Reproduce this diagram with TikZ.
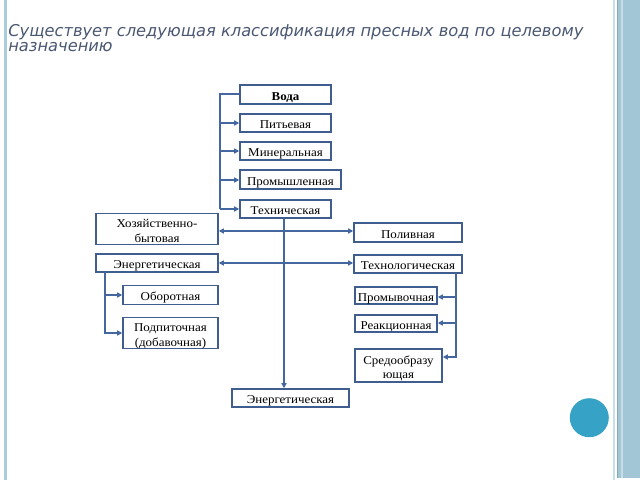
\documentclass[tikz,border=0pt]{standalone}
\usepackage{fontspec}
\setmainfont{Liberation Serif}
\newfontfamily\boxfont[FakeStretch=1.08]{Liberation Serif}
\newfontfamily\titlefont{DejaVu Sans}
\usetikzlibrary{arrows.meta}
\definecolor{boxc}{HTML}{3F5D8F}
\definecolor{linec}{HTML}{4467A0}
\definecolor{titlec}{HTML}{4A5872}
\definecolor{stripc}{HTML}{A9CDDB}
\definecolor{bandc}{HTML}{A3C6D7}
\definecolor{bandline}{HTML}{8AA6B6}
\definecolor{lightline}{HTML}{C6DFE8}
\definecolor{circc}{HTML}{35A2C6}
\newcommand{\dn}[1]{\raisebox{-2.2pt}[\height][\depth]{\begin{tabular}{@{}c@{}}#1\end{tabular}}}
\tikzset{
  box/.style={draw=boxc, line width=1.15pt, fill=white, inner sep=0pt,
    font=\boxfont\fontsize{9}{11}\selectfont, text=black},
  conn/.style={draw=linec, line width=1.5pt},
  arr/.style={conn, -{Triangle[length=3.8pt,width=3.8pt]}},
  darr/.style={conn, {Triangle[length=3.8pt,width=3.8pt]}-{Triangle[length=3.8pt,width=3.8pt]}},
}
\begin{document}
\begin{tikzpicture}[x=0.75pt,y=-0.75pt]
\useasboundingbox (0,0) rectangle (640,480);
% frame decoration
\fill[white] (0,0) rectangle (640,480);
\fill[stripc] (3.5,0) rectangle (6.8,480);
\fill[lightline] (612.5,0) rectangle (614.8,480);
\fill[bandc] (617.5,0) rectangle (640,478);
\fill[bandline] (616.6,0) rectangle (617.8,478);
\fill[white!40!bandc] (621,0) rectangle (623,478);
\fill[circc] (589.3,417.7) circle (19.5);
% title
\node[anchor=north west, align=left, inner sep=0pt, text=titlec,
  font=\titlefont\itshape\fontsize{12.2}{11.6}\selectfont] (title) at (8,24)
  {Существует следующая классификация пресных вод по целевому\\назначению};
% boxes
\node[box, minimum width=91*0.75pt, minimum height=19*0.75pt] (voda) at (285.5,94.5) {\dn{\textbf{Вода}}};
\node[box, minimum width=91*0.75pt, minimum height=18*0.75pt] (pit) at (285.5,123) {\dn{Питьевая}};
\node[box, minimum width=91*0.75pt, minimum height=18*0.75pt] (min) at (285.5,151) {\dn{Минеральная}};
\node[box, minimum width=101*0.75pt, minimum height=19*0.75pt] (prom) at (290.5,179.5) {\dn{Промышленная}};
\node[box, minimum width=91*0.75pt, minimum height=18*0.75pt] (tech) at (285.5,209) {\dn{Техническая}};
\node[box, minimum width=122*0.75pt, minimum height=31*0.75pt] (hoz) at (157,229) {\dn{Хозяйственно-\\бытовая}};
\node[box, minimum width=108*0.75pt, minimum height=19*0.75pt] (pol) at (408,232.5) {\dn{Поливная}};
\node[box, minimum width=122*0.75pt, minimum height=18*0.75pt] (enl) at (157,263) {\dn{Энергетическая}};
\node[box, minimum width=108*0.75pt, minimum height=18*0.75pt] (tgl) at (408,264) {\dn{Технологическая}};
\node[box, minimum width=95*0.75pt, minimum height=19*0.75pt] (obor) at (170.5,295) {\dn{Оборотная}};
\node[box, minimum width=95*0.75pt, minimum height=31*0.75pt] (podp) at (170.5,333) {\dn{Подпиточная\\(добавочная)}};
\node[box, minimum width=82*0.75pt, minimum height=17*0.75pt] (prv) at (396,295.5) {\dn{Промывочная}};
\node[box, minimum width=82*0.75pt, minimum height=17*0.75pt] (rea) at (396,323.5) {\dn{Реакционная}};
\node[box, minimum width=87*0.75pt, minimum height=33*0.75pt] (sred) at (398.5,365.5) {\dn{Средообразу\\ющая}};
\node[box, minimum width=117*0.75pt, minimum height=18*0.75pt] (enb) at (290.5,398) {\dn{Энергетическая}};
% connectors
\coordinate (lt) at (220,209);
\draw[conn] (voda.west |- 0,94) -| (lt);
\draw[arr] (lt |- pit.west) -- (pit.west);
\draw[arr] (lt |- min.west) -- (min.west);
\draw[arr] (lt |- 0,180) -- (prom.west |- 0,180);
\draw[arr] (lt) -- (tech.west);
\coordinate (ct) at (284,218);
\draw[arr] (ct) -- (ct |- enb.north);
\draw[darr] (hoz.east |- 0,231) -- (pol.west |- 0,231);
\draw[darr] (enl.east |- 0,263) -- (tgl.west |- 0,263);
\coordinate (lb) at (105,272);
\draw[arr] (lb) |- (obor.west);
\draw[arr] (lb) |- (podp.west);
\coordinate (rb) at (456,273);
\draw[arr] (rb) |- (prv.east |- 0,297);
\draw[arr] (rb) |- (rea.east |- 0,323);
\draw[arr] (rb) |- (sred.east |- 0,357);
\end{tikzpicture}
\end{document}
